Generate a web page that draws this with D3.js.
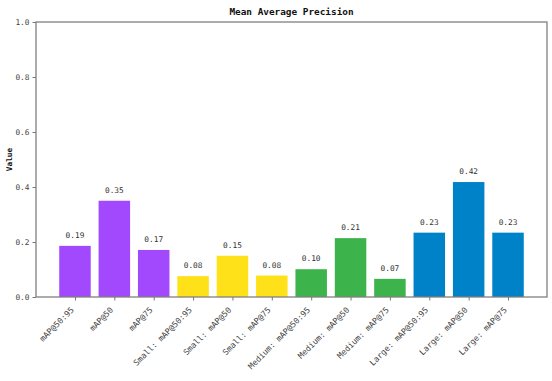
<!DOCTYPE html>
<html>
<head>
<meta charset="utf-8">
<script src="https://cdn.jsdelivr.net/npm/d3@7"></script>
<style>
  body { margin: 0; background: #fff; }
  text { font-family: "DejaVu Sans Mono", monospace; }
</style>
</head>
<body>
<script>
// chart data
var labels = ["mAP@50:95", "mAP@50", "mAP@75",
              "Small: mAP@50:95", "Small: mAP@50", "Small: mAP@75",
              "Medium: mAP@50:95", "Medium: mAP@50", "Medium: mAP@75",
              "Large: mAP@50:95", "Large: mAP@50", "Large: mAP@75"];
var values = [0.186, 0.350, 0.171, 0.076, 0.150, 0.078, 0.101, 0.214, 0.066, 0.234, 0.418, 0.234];
var groups = ["all", "all", "all", "small", "small", "small", "medium", "medium", "medium", "large", "large", "large"];
var groupNames = ["all", "small", "medium", "large"];
var groupColors = ["#a349fd", "#ffe119", "#3cb44b", "#0082c8"];
var yTicks = [0, 0.2, 0.4, 0.6, 0.8, 1.0];

var margin = {top: 22, right: 5, bottom: 84, left: 36},
    width = 552 - margin.left - margin.right,
    height = 381 - margin.top - margin.bottom;

var svg = d3.select("body").append("svg")
    .attr("width", 552)
    .attr("height", 381);

var g = svg.append("g")
    .attr("transform", "translate(" + margin.left + "," + margin.top + ")");

// matplotlib style linear x: bars at 0..n-1, width 0.8, 5% margins
var n = values.length;
var lo = -0.4, hi = n - 1 + 0.4, pad = (hi - lo) * 0.05;
var x = d3.scaleLinear().domain([lo - pad, hi + pad]).range([0, width]);
var y = d3.scaleLinear().domain([0, 1]).range([height, 0]);
var color = d3.scaleOrdinal().domain(groupNames).range(groupColors);

// bars
g.selectAll(".bar")
    .data(values)
    .enter().append("rect")
    .attr("class", "bar")
    .attr("x", (d, i) => x(i - 0.4))
    .attr("width", x(0.8) - x(0))
    .attr("y", d => y(d))
    .attr("height", d => y(0) - y(d))
    .attr("fill", (d, i) => color(groups[i]));

// value labels
g.selectAll(".vlabel")
    .data(values)
    .enter().append("text")
    .attr("x", (d, i) => x(i))
    .attr("y", d => y(d) - 8)
    .attr("text-anchor", "middle")
    .style("font-size", "7.8px")
    .style("fill", "#333")
    .text(d => d.toFixed(2));

// axes
var xAxis = g.append("g")
    .attr("transform", "translate(0," + height + ")")
    .call(d3.axisBottom(x).tickValues(d3.range(n)).tickFormat((d, i) => labels[i]).tickSize(3.5));
xAxis.selectAll("text")
    .attr("x", 0)
    .attr("y", 0)
    .attr("dy", 0)
    .attr("transform", "translate(-1,13.5) rotate(-45)")
    .attr("text-anchor", "end")
    .style("font-size", "8.2px")
    .style("fill", "#444");

var yAxis = g.append("g")
    .call(d3.axisLeft(y).tickValues(yTicks).tickFormat(d3.format(".1f")).tickSize(3.5).tickPadding(3));
yAxis.selectAll("text")
    .style("font-size", "7.8px")
    .style("fill", "#444");

[xAxis, yAxis].forEach(a => {
    a.select(".domain").remove();
    a.selectAll("line").attr("stroke", "#555").attr("stroke-width", 0.8);
});

// frame
g.append("rect")
    .attr("width", width)
    .attr("height", height)
    .attr("fill", "none")
    .attr("stroke", "#808080")
    .attr("stroke-width", 1.3);

// title & y label
svg.append("text")
    .attr("x", margin.left + width / 2)
    .attr("y", 15)
    .attr("text-anchor", "middle")
    .style("font-size", "9.4px")
    .style("font-weight", "bold")
    .style("fill", "#111")
    .text("Mean Average Precision");

svg.append("text")
    .attr("transform", "translate(12," + (margin.top + height / 2) + ") rotate(-90)")
    .attr("text-anchor", "middle")
    .style("font-size", "7.8px")
    .style("font-weight", "bold")
    .style("fill", "#111")
    .text("Value");
</script>
</body>
</html>
